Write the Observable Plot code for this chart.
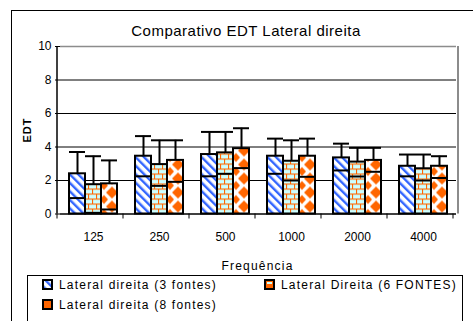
<!DOCTYPE html>
<html><head><meta charset="utf-8">
<script src="https://cdn.jsdelivr.net/npm/d3@7"></script>
<script src="https://cdn.jsdelivr.net/npm/@observablehq/plot@0.6"></script>
<style>
body{margin:0;background:#fff;overflow:hidden}
#wrap{position:relative;width:473px;height:321px;overflow:hidden;background:#fff}
#wrap svg{position:absolute;left:0;top:0}
</style></head><body><div id="wrap"></div>
<script>
const title = "Comparativo EDT Lateral direita";
const xLabel = "Frequência";
const yLabel = "EDT";
const freqs = ["125", "250", "500", "1000", "2000", "4000"];
const series = ["Lateral direita (3 fontes)", "Lateral Direita (6 FONTES)", "Lateral direita (8 fontes)"];
const yTicks = [0, 2, 4, 6, 8, 10];
// bar values per series (one per frequency)
const values3 = [2.4, 3.45, 3.55, 3.45, 3.35, 2.85];
const values6 = [1.75, 2.95, 3.65, 3.15, 3.1, 2.7];
const values8 = [1.8, 3.2, 3.9, 3.45, 3.2, 2.85];
// error bar ends
const high3 = [3.7, 4.65, 4.9, 4.5, 4.2, 3.55];
const high6 = [3.45, 4.4, 4.9, 4.4, 3.95, 3.55];
const high8 = [3.2, 4.4, 5.12, 4.5, 3.95, 3.45];
const low3 = [0.95, 2.25, 2.25, 2.4, 2.6, 2.25];
const low6 = [0.07, 1.68, 2.4, 2.0, 2.24, 2.0];
const low8 = [0.27, 1.92, 2.74, 2.22, 2.52, 2.15];

const values = [values3, values6, values8];
const highs = [high3, high6, high8];
const lows = [low3, low6, low8];
const data = [];
freqs.forEach((f, i) => series.forEach((s, j) => data.push({freq: f, series: s, value: values[j][i], lo: lows[j][i], hi: highs[j][i]})));

const FONT = "Liberation Sans, Arial, sans-serif";
const plot = Plot.plot({
  width: 473, height: 321,
  marginLeft: 57, marginRight: 15, marginTop: 46, marginBottom: 107.5,
  style: {fontFamily: FONT, fontSize: "12px", background: "transparent", color: "#000", overflow: "visible"},
  fx: {domain: freqs, padding: 0, label: null},
  x: {domain: series, paddingInner: 0, paddingOuter: 0.5, axis: null},
  y: {domain: [0, 10], label: null},
  color: {domain: series, range: ["url(#pat1)", "url(#pat2)", "url(#pat3)"]},
  marks: [
    Plot.gridY([2, 4, 6, 8], {stroke: "#000", strokeOpacity: 1, strokeWidth: 1}),
    Plot.ruleY([10], {stroke: "#8c8c8c", strokeWidth: 1.5}),
    Plot.barY(data, {fx: "freq", x: "series", y: "value", fill: "series", stroke: "#000", strokeWidth: 2}),
    Plot.ruleX(data, {fx: "freq", x: "series", y1: "value", y2: "hi", stroke: "#000", strokeWidth: 2}),
    Plot.tickY(data, {fx: "freq", x: "series", y: "hi", stroke: "#000", strokeWidth: 2}),
    Plot.tickY(data, {fx: "freq", x: "series", y: "lo", stroke: "#000", strokeWidth: 2}),
    Plot.ruleY([0], {stroke: "#000", strokeWidth: 1.5}),
    Plot.axisY({ticks: yTicks, tickSize: 5, tickPadding: 4, fontSize: 12, label: null}),
    Plot.axisFx({anchor: "bottom", tickSize: 0, tickPadding: 18, fontSize: 12, label: null})
  ]
});

const wrap = document.getElementById("wrap");
wrap.appendChild(plot);

const fx = plot.scale("fx"), y = plot.scale("y"), xs = plot.scale("x");
const y0 = y.apply(0), y10 = y.apply(10);
const xL = fx.range[0], xR = fx.range[1], step = fx.step;
const bw = xs.bandwidth;
const firstBar = plot.querySelector('g[aria-label="bar"] rect');
const ox = firstBar ? firstBar.getBoundingClientRect().left - wrap.getBoundingClientRect().left : xL + step / 8;

const ps = d3.select(plot);
// axis lines and plot-area border
ps.append("line").attr("x1", xL).attr("x2", xL).attr("y1", y10).attr("y2", y0).attr("stroke", "#000").attr("stroke-width", 1.5);
ps.append("line").attr("x1", xR).attr("x2", xR).attr("y1", y10).attr("y2", y0).attr("stroke", "#8c8c8c").attr("stroke-width", 2);
ps.append("g").selectAll("line").data(d3.range(freqs.length + 1)).join("line")
  .attr("x1", i => xL + i * step).attr("x2", i => xL + i * step)
  .attr("y1", y0).attr("y2", y0 + 5).attr("stroke", "#000").attr("stroke-width", 1);

// overlay svg: patterns, frame, title, labels, legend
const ov = d3.select(wrap).append("svg").attr("width", 473).attr("height", 321)
  .style("font-family", FONT);
const defs = ov.append("defs");
const ORANGE = "#FF6600", BLUE = "#3366FF", CYAN = "#CCFFFF";
const p1 = defs.append("pattern").attr("id", "pat1").attr("patternUnits", "userSpaceOnUse")
  .attr("width", 6).attr("height", 6).attr("patternTransform", `translate(${ox},0) rotate(-45)`);
p1.append("rect").attr("width", 6).attr("height", 6).attr("fill", "#fff");
p1.append("rect").attr("width", 2.4).attr("height", 6).attr("fill", BLUE);

const bwH = bw / 2;
const p2 = defs.append("pattern").attr("id", "pat2").attr("patternUnits", "userSpaceOnUse")
  .attr("width", bwH).attr("height", 10).attr("patternTransform", `translate(${ox},${y0})`);
p2.append("rect").attr("width", bwH).attr("height", 10).attr("fill", CYAN);
p2.append("rect").attr("width", bwH).attr("height", 1.1).attr("fill", ORANGE);
p2.append("rect").attr("y", 5).attr("width", bwH).attr("height", 1.1).attr("fill", ORANGE);
p2.append("rect").attr("width", 1.1).attr("height", 5).attr("fill", ORANGE);
p2.append("rect").attr("x", bwH / 2).attr("y", 5).attr("width", 1.1).attr("height", 5).attr("fill", ORANGE);

const H3 = 14;
const p3 = defs.append("pattern").attr("id", "pat3").attr("patternUnits", "userSpaceOnUse")
  .attr("width", bw).attr("height", H3).attr("patternTransform", `translate(${ox},${y0})`);
p3.append("rect").attr("width", bw).attr("height", H3).attr("fill", "#fff");
const c = bw / 2, m = H3 / 2;
p3.append("path").attr("fill", ORANGE)
  .attr("d", `M${c},${m - 6}L${c + 6},${m}L${c},${m + 6}L${c - 6},${m}Z M0,-4.5L4,0L0,4.5L-4,0Z M${bw},-4.5L${bw + 4},0L${bw},4.5L${bw - 4},0Z M0,${H3 - 4.5}L4,${H3}L0,${H3 + 4.5}L-4,${H3}Z M${bw},${H3 - 4.5}L${bw + 4},${H3}L${bw},${H3 + 4.5}L${bw - 4},${H3}Z`);

// chart-area frame (left and top edges)
ov.append("line").attr("x1", 11.5).attr("x2", 11.5).attr("y1", 10).attr("y2", 321).attr("stroke", "#000");
ov.append("line").attr("x1", 11).attr("x2", 473).attr("y1", 10.5).attr("y2", 10.5).attr("stroke", "#000");

ov.append("text").attr("x", 246).attr("y", 36).attr("text-anchor", "middle")
  .attr("font-size", 15).attr("letter-spacing", 0.5).text(title);
ov.append("text").attr("x", (xL + xR) / 2).attr("y", 270).attr("text-anchor", "middle")
  .attr("font-size", 12).attr("letter-spacing", 1.2).text(xLabel);
ov.append("text").attr("transform", "translate(30.5,130) rotate(-90)").attr("text-anchor", "middle")
  .attr("font-size", 11).attr("font-weight", "bold").attr("letter-spacing", 1).text(yLabel);

// legend
ov.append("rect").attr("x", 27.5).attr("y", 275.5).attr("width", 435).attr("height", 80)
  .attr("fill", "#fff").attr("stroke", "#000");
const legendPos = [{sx: 43, ty: 289}, {sx: 265, ty: 289}, {sx: 43, ty: 309}];
const swatchFill = ["url(#pat1)", ORANGE, ORANGE];
series.forEach((s, i) => {
  const p = legendPos[i];
  ov.append("rect").attr("x", p.sx).attr("y", p.ty - 9).attr("width", 9).attr("height", 9)
    .attr("fill", swatchFill[i]).attr("stroke", "#000").attr("stroke-width", 2);
  if (i === 1) ov.append("rect").attr("x", p.sx + 2).attr("y", p.ty - 7).attr("width", 5).attr("height", 2).attr("fill", CYAN);
  ov.append("text").attr("x", p.sx + 16).attr("y", p.ty).attr("font-size", 12).attr("letter-spacing", 1.2).text(s);
});
</script></body></html>
